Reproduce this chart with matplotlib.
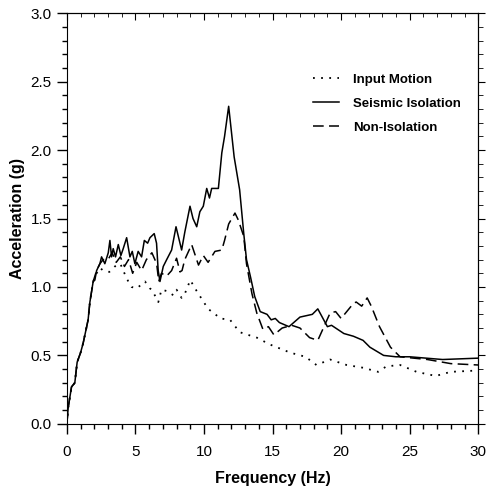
import matplotlib
matplotlib.use('Agg')
import matplotlib.pyplot as plt
from matplotlib.ticker import MultipleLocator

plt.rcParams['font.family'] = ['Liberation Sans', 'DejaVu Sans']

# input motion (dotted)
input_f = [0, 0.1, 0.34, 0.58, 0.75, 1.0, 1.19, 1.55, 1.68, 1.92, 2.17, 2.41, 2.65, 3.1, 3.5,
           3.9, 4.2, 4.48, 4.72, 5.1, 5.7, 6.05, 6.2, 6.67, 6.9, 7.3, 7.76, 8.0, 8.37, 8.6,
           9.0, 9.47, 10.3, 10.7, 11.2, 11.9, 12.6, 12.9, 13.85, 14.8, 16.3, 17.4, 18.2,
           19.2, 20.4, 21.6, 22.7, 23.3, 24.3, 25.5, 26.9, 28.0, 30.0]
input_a = [0, 0.12, 0.27, 0.30, 0.45, 0.52, 0.59, 0.76, 0.89, 1.04, 1.10, 1.14, 1.12, 1.11, 1.15,
           1.17, 1.10, 1.04, 1.00, 0.99, 1.04, 0.99, 0.98, 0.89, 0.98, 0.97, 0.94, 0.98, 0.92, 0.95,
           1.05, 0.97, 0.84, 0.81, 0.77, 0.76, 0.67, 0.66, 0.63, 0.58, 0.52, 0.49, 0.43,
           0.47, 0.43, 0.41, 0.38, 0.42, 0.43, 0.38, 0.35, 0.38, 0.39]

# seismic isolation (solid)
iso_f = [0, 0.1, 0.34, 0.58, 0.75, 1.0, 1.19, 1.55, 1.68, 1.92, 2.04, 2.17, 2.41, 2.53, 2.77,
         3.02, 3.14, 3.26, 3.38, 3.55, 3.75, 3.94, 4.11, 4.36, 4.6, 4.77, 4.96, 5.2, 5.45,
         5.65, 5.89, 6.06, 6.37, 6.54, 6.66, 6.79, 7.03, 7.28, 7.64, 7.96, 8.37, 8.6, 8.98,
         9.2, 9.47, 9.7, 9.95, 10.2, 10.4, 10.56, 11.05, 11.3, 11.5, 11.8, 12.2, 12.6, 12.9,
         13.1, 13.4, 13.7, 14.1, 14.6, 14.9, 15.2, 15.5, 16.2, 17.0, 17.9, 18.3, 19.0, 19.3,
         20.2, 20.9, 21.6, 22.1, 23.1, 24.0, 25.0, 27.4, 30.0]
iso_a = [0, 0.12, 0.27, 0.30, 0.45, 0.52, 0.59, 0.76, 0.89, 1.04, 1.05, 1.12, 1.17, 1.22, 1.17,
         1.25, 1.34, 1.22, 1.28, 1.22, 1.31, 1.23, 1.28, 1.36, 1.22, 1.26, 1.17, 1.26, 1.22,
         1.34, 1.32, 1.36, 1.39, 1.32, 1.12, 1.04, 1.15, 1.20, 1.27, 1.44, 1.27, 1.40, 1.59,
         1.50, 1.44, 1.55, 1.59, 1.72, 1.65, 1.72, 1.72, 1.98, 2.10, 2.32, 1.95, 1.71, 1.39,
         1.20, 1.07, 0.93, 0.82, 0.80, 0.76, 0.77, 0.74, 0.71, 0.78, 0.80, 0.84, 0.71, 0.72,
         0.66, 0.64, 0.61, 0.56, 0.50, 0.49, 0.49, 0.47, 0.48]

# non-isolation (dashed)
non_f = [0, 0.1, 0.34, 0.58, 0.75, 1.0, 1.19, 1.55, 1.68, 1.92, 2.17, 2.41, 2.65, 3.0, 3.3,
         3.6, 3.9, 4.2, 4.5, 4.8, 5.1, 5.45, 5.8, 6.2, 6.55, 6.7, 6.9, 7.28, 7.64, 8.0, 8.25,
         8.4, 8.6, 9.1, 9.6, 9.95, 10.3, 10.8, 11.3, 11.5, 11.8, 12.26, 12.5, 12.9, 13.1,
         13.5, 13.85, 14.3, 14.7, 15.1, 15.7, 16.4, 17.0, 17.7, 18.3, 19.2, 19.6, 20.0,
         20.9, 21.1, 21.5, 21.9, 22.2, 22.8, 23.6, 24.3, 26.3, 28.0, 30.0]
non_a = [0, 0.12, 0.27, 0.30, 0.45, 0.52, 0.59, 0.76, 0.89, 1.04, 1.12, 1.17, 1.20, 1.20, 1.25,
         1.18, 1.22, 1.15, 1.20, 1.10, 1.18, 1.12, 1.20, 1.25, 1.17, 1.04, 1.10, 1.08, 1.12, 1.21, 1.11,
         1.12, 1.20, 1.31, 1.16, 1.23, 1.18, 1.26, 1.27, 1.34, 1.46, 1.54, 1.49, 1.37, 1.17,
         0.95, 0.81, 0.69, 0.71, 0.65, 0.70, 0.72, 0.70, 0.63, 0.61, 0.81, 0.82, 0.77,
         0.88, 0.89, 0.86, 0.92, 0.86, 0.71, 0.56, 0.49, 0.47, 0.44, 0.43]

fig = plt.figure(figsize=(4.88, 4.90), dpi=100)
ax = fig.add_axes([0.137, 0.135, 0.843, 0.838])

ax.plot(input_f, input_a, color='black', lw=1.3, linestyle=(0, (1, 3.5)), label='Input Motion')
ax.plot(iso_f, iso_a, color='black', lw=1.1, label='Seismic Isolation')
ax.plot(non_f, non_a, color='black', lw=1.1, linestyle=(0, (7, 3.5)), label='Non-Isolation')

ax.set_xlim(0, 30)
ax.set_ylim(0, 3.0)
ax.xaxis.set_major_locator(MultipleLocator(5))
ax.xaxis.set_minor_locator(MultipleLocator(1))
ax.yaxis.set_major_locator(MultipleLocator(0.5))
ax.yaxis.set_minor_locator(MultipleLocator(0.1))
ax.yaxis.set_major_formatter(matplotlib.ticker.FormatStrFormatter('%.1f'))
ax.tick_params(which='both', direction='out', top=False, right=False, labelsize=11, width=1)
ax.tick_params(which='major', length=7)
ax.tick_params(which='minor', length=3.6)
ax.tick_params(axis='x', which='major', pad=8)
ax.tick_params(axis='y', which='major', pad=4)

top = ax.secondary_xaxis('top')
top.xaxis.set_major_locator(MultipleLocator(5))
top.xaxis.set_minor_locator(MultipleLocator(1))
top.tick_params(which='both', direction='in', labeltop=False)
top.tick_params(which='major', length=5)
top.tick_params(which='minor', length=3)

right = ax.secondary_yaxis('right')
right.yaxis.set_major_locator(MultipleLocator(0.5))
right.yaxis.set_minor_locator(MultipleLocator(0.1))
right.tick_params(which='both', direction='out', labelright=False)
right.tick_params(which='major', length=5)
right.tick_params(which='minor', length=3.5)

ax.set_xlabel('Frequency (Hz)', fontsize=11.5, fontweight='bold', labelpad=9)
ax.set_ylabel('Acceleration (g)', fontsize=11.5, fontweight='bold', labelpad=4)

ax.legend(loc='upper left', bbox_to_anchor=(0.5705, 0.882), frameon=False,
          prop={'weight': 'bold', 'size': 9.5}, handlelength=1.95, handletextpad=1.06,
          labelspacing=0.9)

plt.savefig('out.png', dpi=100)
